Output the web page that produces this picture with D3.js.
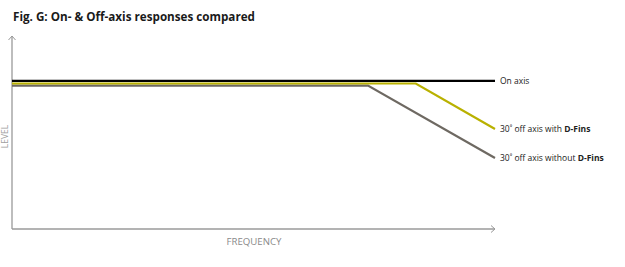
<!DOCTYPE html>
<html><head><meta charset="utf-8">
<script src="https://cdn.jsdelivr.net/npm/d3@7"></script>
<style>body{margin:0;background:#fff}svg{display:block}</style>
</head><body><svg id="c" width="625" height="267"></svg>
<script>
// Data (arbitrary units: frequency 0-100, level 0-100)
const seriesNames = ["On axis", "30˚ off axis with ", "30˚ off axis without "];
const seriesBold = ["", "D-Fins", "D-Fins"];
const onAxis = [[0, 76.7], [100, 76.7]];
const withFins = [[0, 75.4], [83.6, 75.4], [100, 51.8]];
const withoutFins = [[0, 74.3], [73.7, 74.3], [100, 36.8]];
const colors = ["#000000", "#b9b100", "#6e6962"];

const svg = d3.select("#c");
const x = d3.scaleLinear().domain([0, 100]).range([12, 495]);
const y = d3.scaleLinear().domain([0, 100]).range([229, 36]);

svg.append("text").attr("x", 13).attr("y", 21)
  .attr("font-family", "'Open Sans', sans-serif").attr("font-weight", 700)
  .attr("font-size", 12.5).attr("fill", "#1a1a1a")
  .attr("textLength", 242).attr("lengthAdjust", "spacingAndGlyphs")
  .text("Fig. G: On- & Off-axis responses compared");

const axisColor = "#9a9a9a";
svg.append("line").attr("x1", x(0)).attr("x2", x(0)).attr("y1", y(100)).attr("y2", y(0))
  .attr("stroke", axisColor).attr("stroke-width", 1.3);
svg.append("line").attr("x1", x(0)).attr("x2", x(100)).attr("y1", y(0)).attr("y2", y(0))
  .attr("stroke", axisColor).attr("stroke-width", 1.3);
svg.append("path").attr("d", `M${x(0)-3.5},${y(100)+4}L${x(0)},${y(100)}L${x(0)+3.5},${y(100)+4}`)
  .attr("fill", "none").attr("stroke", axisColor).attr("stroke-width", 1);
svg.append("path").attr("d", `M${x(100)-4},${y(0)-3.5}L${x(100)},${y(0)}L${x(100)-4},${y(0)+3.5}`)
  .attr("fill", "none").attr("stroke", axisColor).attr("stroke-width", 1);

svg.append("text").attr("transform", `translate(8,${(y(0)+y(100))/2 + 4}) rotate(-90)`)
  .attr("text-anchor", "middle").attr("font-family", "'Open Sans', sans-serif")
  .attr("font-size", 8.5).attr("fill", "#a0a0a0").text("LEVEL");
svg.append("text").attr("x", 254).attr("y", 245).attr("text-anchor", "middle")
  .attr("font-family", "'Open Sans', sans-serif").attr("font-size", 8.5)
  .attr("fill", "#8a8a8a").attr("textLength", 55).attr("lengthAdjust", "spacingAndGlyphs")
  .text("FREQUENCY");

const line = d3.line().x(d => x(d[0])).y(d => y(d[1]));
const all = [withoutFins, withFins, onAxis];
const cols = [colors[2], colors[1], colors[0]];
all.forEach((s, i) => {
  svg.append("path").attr("d", line(s)).attr("fill", "none")
    .attr("stroke", cols[i]).attr("stroke-width", 2.2);
});

const ends = [onAxis, withFins, withoutFins];
ends.forEach((s, i) => {
  const last = s[s.length - 1];
  const t = svg.append("text").attr("x", x(last[0]) + 5).attr("y", y(last[1]) + 3)
    .attr("font-family", "'Open Sans', sans-serif").attr("font-size", 8.5).attr("fill", "#222");
  t.append("tspan").text(seriesNames[i]);
  if (seriesBold[i]) t.append("tspan").attr("font-weight", 700).text(seriesBold[i]);
});
</script></body></html>
